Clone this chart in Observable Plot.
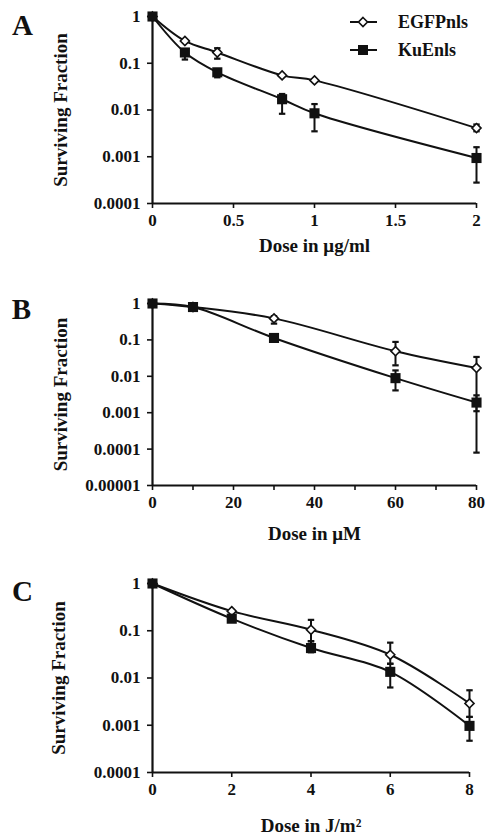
<!DOCTYPE html>
<html><head><meta charset="utf-8">
<script src="https://cdn.jsdelivr.net/npm/d3@7"></script>
<script src="https://cdn.jsdelivr.net/npm/@observablehq/plot@0.6"></script>
<style>
body{margin:0;background:#fff;}
#wrap{position:relative;width:485px;height:835px;overflow:hidden;}
.panel{position:absolute;left:0;width:485px;}
.panel svg{overflow:visible;}
</style></head><body><div id="wrap"></div>
<script>
const seriesNames = ["EGFPnls", "KuEnls"];

// Panel A
const doseA = [0, 0.2, 0.4, 0.8, 1, 2];
const egfpA = [1, 0.30, 0.17, 0.055, 0.043, 0.0041];
const egfpAhi = [null, null, 0.21, null, null, 0.0049];
const egfpAlo = [null, null, 0.125, null, null, 0.0035];
const kuA = [1, 0.17, 0.064, 0.017, 0.0085, 0.00094];
const kuAhi = [null, null, 0.075, 0.022, 0.0134, 0.0016];
const kuAlo = [null, 0.12, 0.05, 0.0083, 0.0035, 0.00028];
const xTicksA = [0, 0.5, 1, 1.5, 2];
const yTicksA = [1, 0.1, 0.01, 0.001, 0.0001];

// Panel B
const doseB = [0, 10, 30, 60, 80];
const egfpB = [1, 0.8, 0.39, 0.049, 0.017];
const egfpBhi = [null, null, 0.45, 0.088, 0.034];
const egfpBlo = [null, null, 0.28, 0.02, 0.0011];
const kuB = [1, 0.8, 0.113, 0.0089, 0.0019];
const kuBhi = [null, null, null, 0.0145, 0.003];
const kuBlo = [null, null, null, 0.0041, 0.00008];
const xTicksB = [0, 10, 20, 30, 40, 50, 60, 70, 80];
const yTicksB = [1, 0.1, 0.01, 0.001, 0.0001, 0.00001];

// Panel C
const doseC = [0, 2, 4, 6, 8];
const egfpC = [1, 0.26, 0.105, 0.031, 0.0029];
const egfpChi = [null, null, 0.17, 0.056, 0.0055];
const egfpClo = [null, null, 0.06, 0.02, 0.0015];
const kuC = [1, 0.18, 0.043, 0.0135, 0.00097];
const kuChi = [null, null, 0.06, 0.02, 0.0015];
const kuClo = [null, null, 0.035, 0.0063, 0.00047];
const xTicksC = [0, 2, 4, 6, 8];
const yTicksC = [1, 0.1, 0.01, 0.001, 0.0001];

const letters = ["A", "B", "C"];
const yTitle = "Surviving Fraction";
const xTitles = ["Dose in μg/ml", "Dose in μM", "Dose in J/m²"];

const FONT = "'Liberation Serif', 'Times New Roman', Times, serif";

function rows(dose, vals, hi, lo, s) {
  return dose.map((x, i) => ({x, y: vals[i], hi: hi[i], lo: lo[i], s}));
}
const capSymbol = {draw(ctx) { ctx.moveTo(-3.2, 0); ctx.lineTo(3.2, 0); }};

function panel(cfg) {
  const all = [...cfg.egfp, ...cfg.ku];
  const err = all.filter(d => d.hi != null || d.lo != null)
    .map(d => ({x: d.x, y1: d.lo ?? d.y, y2: d.hi ?? d.y, hi: d.hi, lo: d.lo}));
  const caps = [];
  err.forEach(d => { if (d.hi != null) caps.push({x: d.x, y: d.hi}); if (d.lo != null) caps.push({x: d.x, y: d.lo}); });
  const ymin = cfg.yTicks[cfg.yTicks.length - 1];
  return Plot.plot({
    width: 485, height: cfg.height,
    marginLeft: 152, marginRight: cfg.mr, marginTop: cfg.mt, marginBottom: cfg.mb,
    style: {fontFamily: FONT, fontWeight: "bold", fontSize: "17px", color: "#111", background: "transparent", overflow: "visible"},
    x: {domain: cfg.xDomain, label: null},
    y: {type: "log", domain: [ymin, 1], label: null},
    marks: [
      Plot.axisX({ticks: cfg.xTicks, tickFormat: cfg.xFormat, tickSize: 5, tickPadding: 5, strokeWidth: 1.6, label: null}),
      Plot.axisY({ticks: cfg.yTicks, tickFormat: d => String(d), tickSize: 5, tickPadding: 7, strokeWidth: 1.6, label: null}),
      Plot.ruleX([cfg.xDomain[0]], {stroke: "#111", strokeWidth: 2.2}),
      Plot.ruleY([ymin], {stroke: "#111", strokeWidth: 2.2}),
      Plot.line(all, {x: "x", y: "y", z: "s", curve: "catmull-rom", stroke: "#111", strokeWidth: 2}),
      Plot.ruleX(err, {x: "x", y1: "y1", y2: "y2", stroke: "#111", strokeWidth: 2}),
      Plot.dot(caps, {x: "x", y: "y", symbol: capSymbol, fill: "none", stroke: "#111", strokeWidth: 2.2}),
      Plot.dot(cfg.egfp, {x: "x", y: "y", symbol: "diamond2", r: 4.1, fill: "white", stroke: "#111", strokeWidth: 1.6}),
      Plot.dot(cfg.ku, {x: "x", y: "y", symbol: "square", r: 5.7, fill: "#111", stroke: "none"}),
      Plot.text([cfg.letter], {text: d => d, frameAnchor: "top-left", textAnchor: "middle", lineAnchor: "middle", dx: cfg.ldx, dy: cfg.ldy, fontSize: 29}),
      Plot.text([yTitle], {text: d => d, frameAnchor: "left", textAnchor: "middle", lineAnchor: "middle", rotate: -90, dx: cfg.ydx, fontSize: 19}),
      Plot.text([cfg.xTitle], {text: d => d, frameAnchor: "bottom", textAnchor: "middle", lineAnchor: "middle", dy: cfg.xdy, fontSize: 19})
    ]
  });
}

const wrap = document.getElementById("wrap");
function place(node, top, h) {
  const div = document.createElement("div");
  div.className = "panel";
  div.style.top = top + "px";
  div.style.height = h + "px";
  div.appendChild(node);
  wrap.appendChild(div);
  return div;
}

const pA = panel({
  height: 275, mt: 16, mb: 72, mr: 9, xDomain: [0, 2], xTicks: xTicksA, yTicks: yTicksA,
  xFormat: d => String(d),
  egfp: rows(doseA, egfpA, egfpAhi, egfpAlo, seriesNames[0]),
  ku: rows(doseA, kuA, kuAhi, kuAlo, seriesNames[1]),
  letter: letters[0], ldx: -130, ldy: 9, ydx: -92, xTitle: xTitles[0], xdy: 42
});
const divA = place(pA, 0, 275);

const pB = panel({
  height: 285, mt: 28, mb: 75, mr: 9, xDomain: [0, 80], xTicks: xTicksB, yTicks: yTicksB,
  xFormat: d => (d % 20 === 0 ? String(d) : ""),
  egfp: rows(doseB, egfpB, egfpBhi, egfpBlo, seriesNames[0]),
  ku: rows(doseB, kuB, kuBhi, kuBlo, seriesNames[1]),
  letter: letters[1], ldx: -131, ldy: 6, ydx: -92, xTitle: xTitles[1], xdy: 48
});
place(pB, 275, 285);

const pC = panel({
  height: 275, mt: 23, mb: 63, mr: 16, xDomain: [0, 8], xTicks: xTicksC, yTicks: yTicksC,
  xFormat: d => String(d),
  egfp: rows(doseC, egfpC, egfpChi, egfpClo, seriesNames[0]),
  ku: rows(doseC, kuC, kuChi, kuClo, seriesNames[1]),
  letter: letters[2], ldx: -130, ldy: 8, ydx: -94, xTitle: xTitles[2], xdy: 53
});
place(pC, 560, 275);

// Legend overlay for panel A
const ns = "http://www.w3.org/2000/svg";
const leg = document.createElementNS(ns, "svg");
leg.setAttribute("width", 140); leg.setAttribute("height", 60);
leg.style.position = "absolute"; leg.style.left = "345px"; leg.style.top = "8px";
seriesNames.forEach((name, i) => {
  const cy = 14 + i * 28;
  const line = document.createElementNS(ns, "line");
  line.setAttribute("x1", 5); line.setAttribute("x2", 32);
  line.setAttribute("y1", cy); line.setAttribute("y2", cy);
  line.setAttribute("stroke", "#111"); line.setAttribute("stroke-width", 2);
  leg.appendChild(line);
  const sym = document.createElementNS(ns, "path");
  if (i === 0) {
    sym.setAttribute("d", `M18,${cy - 4.5}L22.5,${cy}L18,${cy + 4.5}L13.5,${cy}Z`);
    sym.setAttribute("fill", "white"); sym.setAttribute("stroke", "#111"); sym.setAttribute("stroke-width", 1.6);
  } else {
    sym.setAttribute("d", `M13,${cy - 5}h10v10h-10Z`);
    sym.setAttribute("fill", "#111");
  }
  leg.appendChild(sym);
  const t = document.createElementNS(ns, "text");
  t.setAttribute("x", 53); t.setAttribute("y", cy);
  t.setAttribute("dy", "0.35em");
  t.setAttribute("font-family", FONT); t.setAttribute("font-weight", "bold"); t.setAttribute("font-size", 18);
  t.setAttribute("fill", "#111");
  t.textContent = name;
  leg.appendChild(t);
});
divA.appendChild(leg);
</script>
</body></html>
